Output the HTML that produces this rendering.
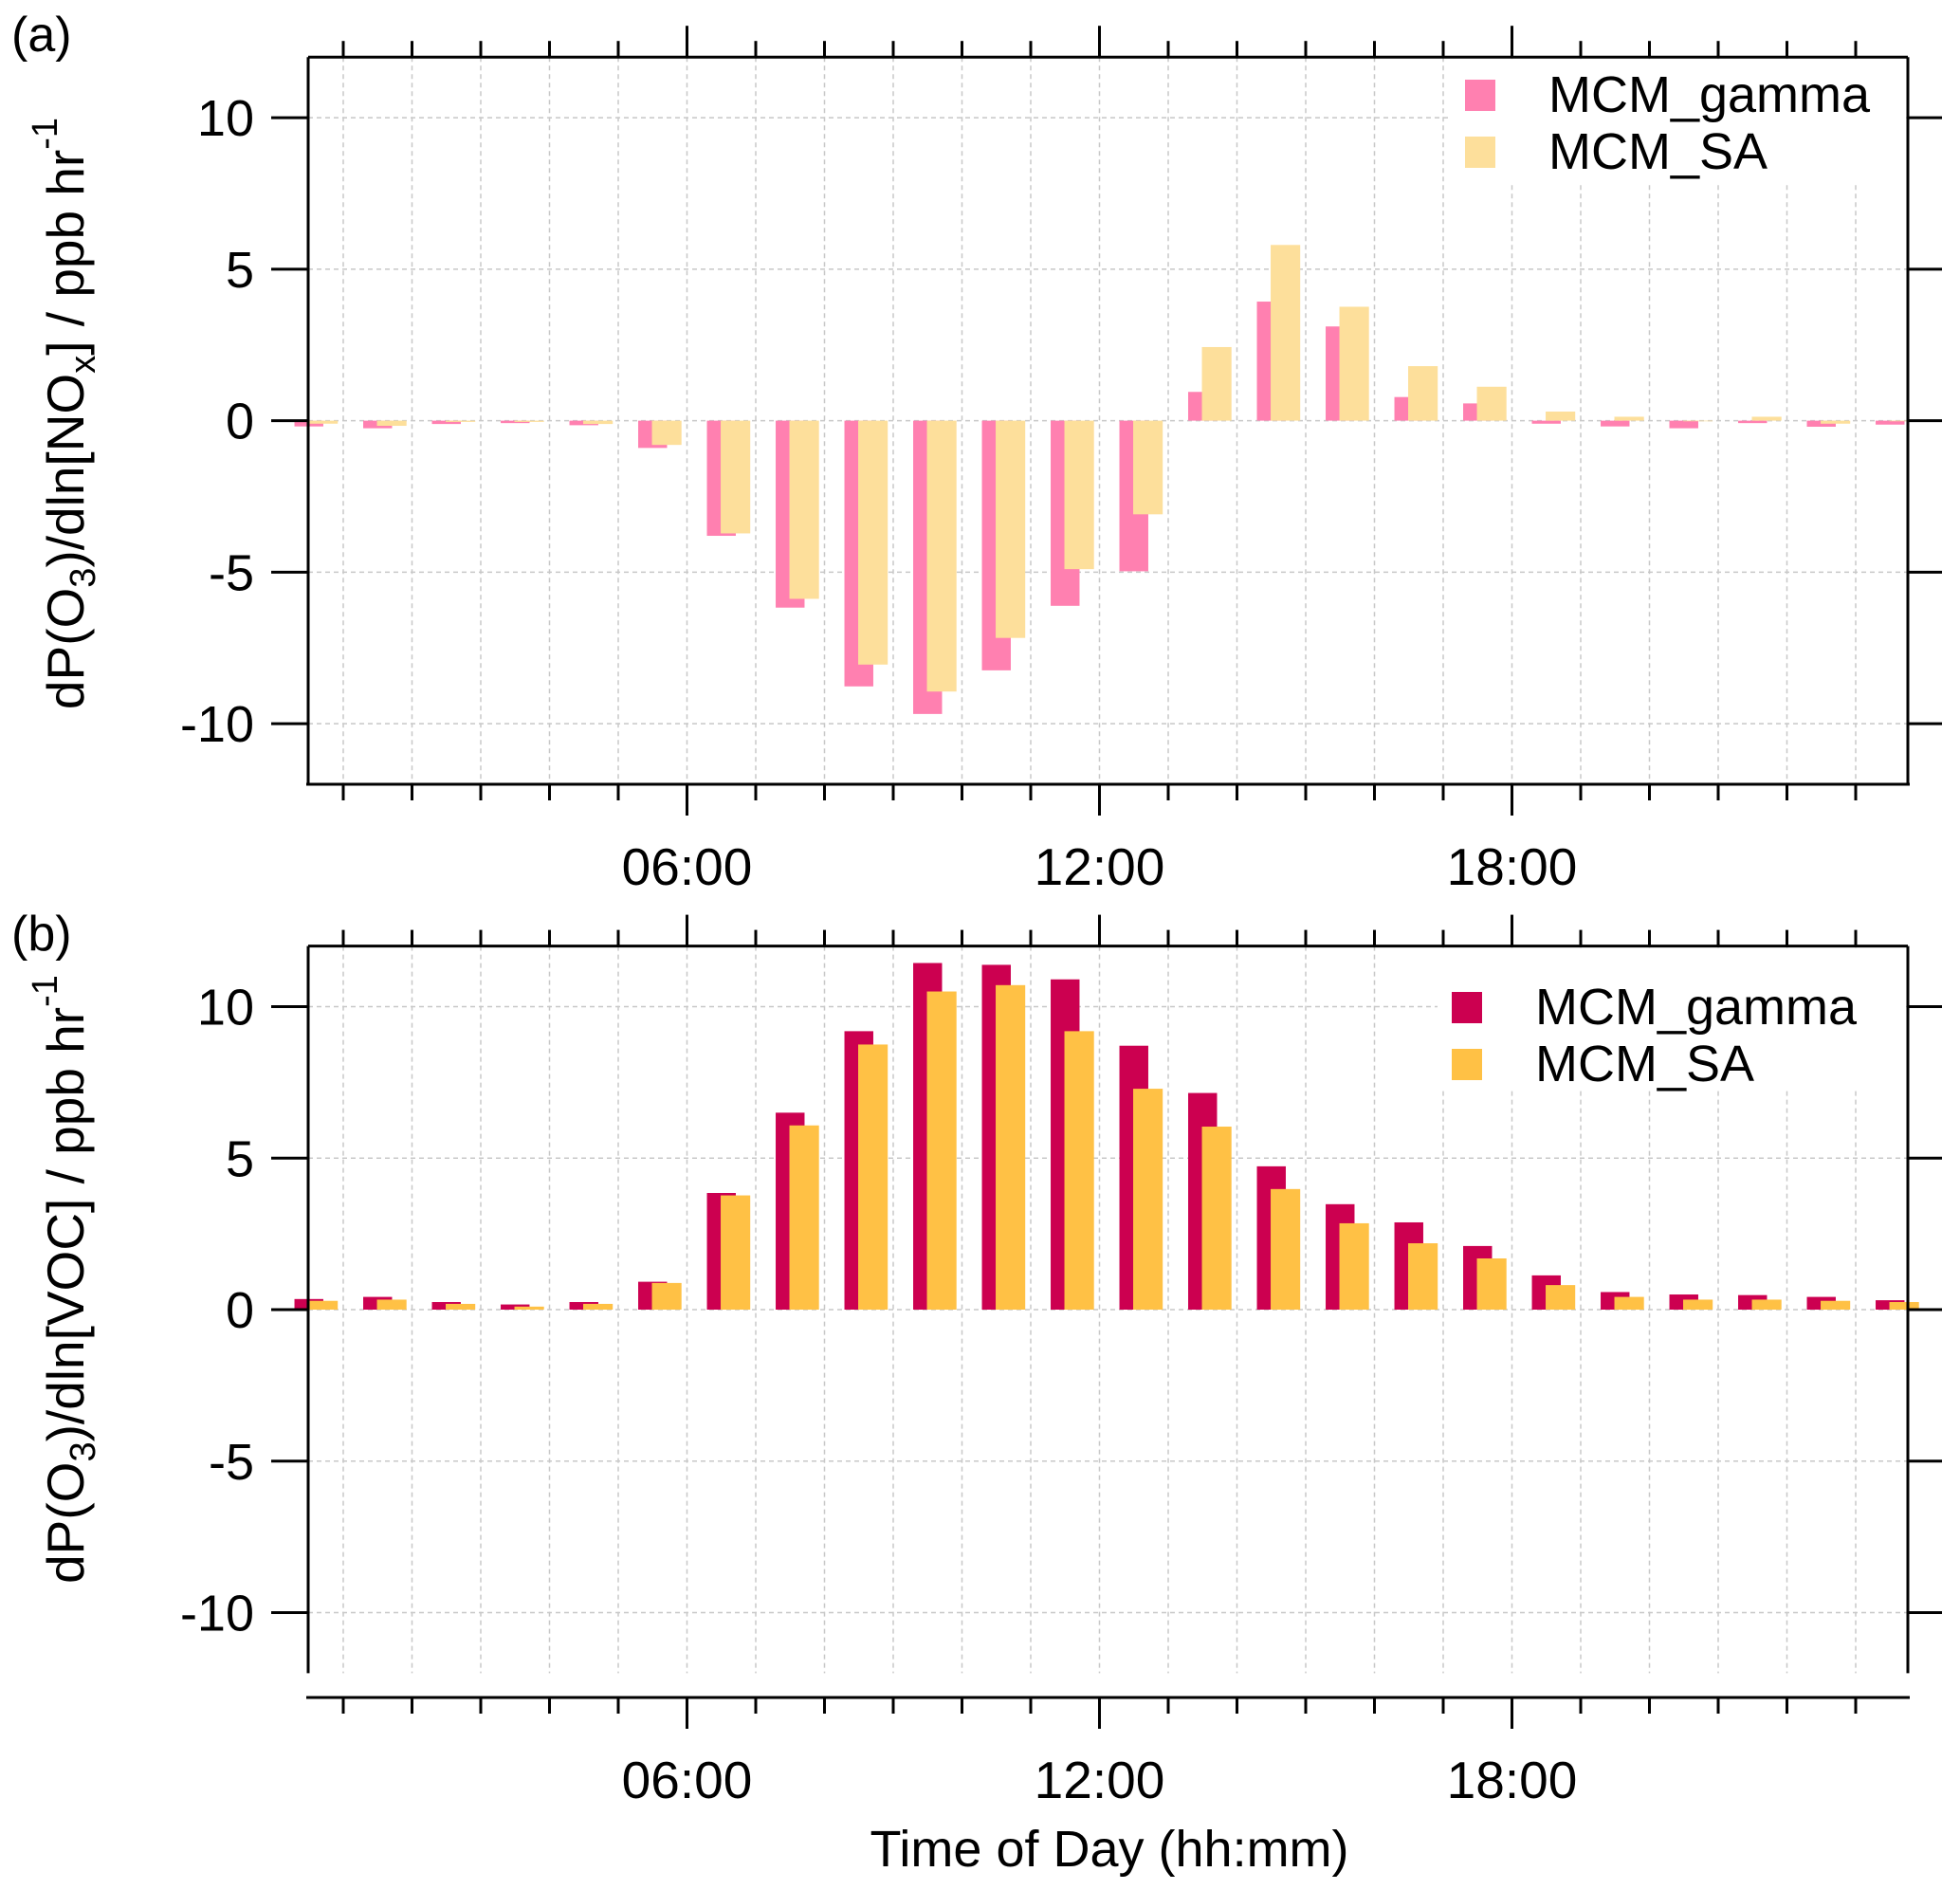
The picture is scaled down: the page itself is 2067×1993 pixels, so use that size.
<!DOCTYPE html>
<html><head><meta charset="utf-8"><style>
html,body{margin:0;padding:0;background:#fff;}
svg{display:block;font-family:"Liberation Sans",Arial,sans-serif;}
</style></head><body>
<svg id="chart" width="2067" height="1993" viewBox="0 0 2067 1993" xmlns="http://www.w3.org/2000/svg">
<g id="root"></g>
</svg>
<script>
const hours = [0,1,2,3,4,5,6,7,8,9,10,11,12,13,14,15,16,17,18,19,20,21,22,23];
const noxGamma = [-0.19,-0.25,-0.11,-0.08,-0.15,-0.9,-3.8,-6.17,-8.77,-9.68,-8.24,-6.11,-4.97,0.95,3.93,3.11,0.78,0.57,-0.1,-0.19,-0.25,-0.08,-0.2,-0.13];
const noxSA = [-0.1,-0.17,-0.04,-0.04,-0.11,-0.8,-3.72,-5.88,-8.05,-8.94,-7.17,-4.9,-3.09,2.43,5.8,3.76,1.8,1.12,0.3,0.13,-0.02,0.13,-0.1,-0.02];
const vocGamma = [0.35,0.42,0.25,0.17,0.25,0.92,3.85,6.5,9.19,11.44,11.38,10.9,8.71,7.15,4.73,3.48,2.88,2.1,1.13,0.58,0.5,0.48,0.42,0.31];
const vocSA = [0.29,0.33,0.19,0.1,0.19,0.88,3.77,6.08,8.75,10.5,10.71,9.19,7.29,6.04,3.98,2.85,2.19,1.69,0.81,0.42,0.33,0.33,0.29,0.25];
const yTicks = [10,5,0,-5,-10];
const yTickLabels = ["10","5","0","-5","-10"];
const xMajor = [6,12,18];
const xMajorLabels = ["06:00","12:00","18:00"];
const seriesNames = ["MCM_gamma","MCM_SA"];

const NS="http://www.w3.org/2000/svg";
const root=document.getElementById('root');
function mk(tag,attrs,parent){const e=document.createElementNS(NS,tag);for(const k in attrs)e.setAttribute(k,attrs[k]);(parent||root).appendChild(e);return e;}

const L=325,R=2012,X0=289.5,HP=72.5;
function xs(h){return X0+h*HP;}

function panel(cfg){
  const g=mk('g',{});
  
  
  const y0=cfg.zero, U=31.95;
  const ys=v=>y0-v*U;
  const top=ys(12), bot=ys(-12);
  const grid=mk('g',{},g);
  
  
  for(let h=1;h<=23;h++){
    const x=xs(h);
    const gl=mk('line',{x1:x,x2:x,y1:top,y2:bot,stroke:'#c8c8c8','stroke-width':1.5,'stroke-dasharray':'5,4'},grid);
    
    
  }
  yTicks.forEach(v=>{
    const gl=mk('line',{x1:L,x2:R,y1:ys(v),y2:ys(v),stroke:'#c8c8c8','stroke-width':1.5,'stroke-dasharray':'5,4'},grid);
    
    
  });
  mk('rect',{x:cfg.legX-15,y:top+2,width:R-cfg.legX+13,height:cfg.legBgH,fill:'#fff'},g);
  const bars=mk('g',{},g);
  
  
  hours.forEach((h,i)=>{
    const gx=xs(h+0.29), gw=0.42*HP;
    const v1=cfg.s1[i];
    const b1=mk('rect',{x:gx,y:Math.min(ys(v1),y0),width:gw,height:Math.abs(ys(v1)-y0),fill:cfg.c1},bars);
    
    
    const v2=cfg.s2[i];
    const b2=mk('rect',{x:gx+0.2*HP,y:Math.min(ys(v2),y0),width:0.43*HP,height:Math.abs(ys(v2)-y0),fill:cfg.c2},bars);
    
    
  });
  const ax=mk('g',{stroke:'#000','stroke-width':3,fill:'none'},g);
  
  
  mk('line',{x1:L,x2:L,y1:top,y2:bot},ax);
  mk('line',{x1:R,x2:R,y1:top,y2:bot},ax);
  mk('line',{x1:L,x2:R,y1:top,y2:top},ax);
  mk('line',{x1:L-2,x2:R+2,y1:cfg.xAxisY,y2:cfg.xAxisY},ax);
  for(let h=1;h<=23;h++){
    const maj=h%6===0;
    const x=xs(h);
    mk('line',{x1:x,x2:x,y1:top,y2:top-(maj?33:17)},ax);
    mk('line',{x1:x,x2:x,y1:cfg.xAxisY,y2:cfg.xAxisY+(maj?33:17)},ax);
  }
  yTicks.forEach((v,i)=>{
    mk('line',{x1:L-39,x2:L,y1:ys(v),y2:ys(v)},ax);
    mk('line',{x1:R,x2:R+36,y1:ys(v),y2:ys(v)},ax);
    const t=mk('text',{x:268,y:ys(v)+19,'text-anchor':'end','font-size':54,fill:'#000'},g);
    t.textContent=yTickLabels[i];
    
    
  });
  xMajor.forEach((h,i)=>{
    const t=mk('text',{x:xs(h),y:cfg.xLabY,'text-anchor':'middle','font-size':55,fill:'#000'},g);
    t.textContent=xMajorLabels[i];
    
    
  });
  [[cfg.c1,0],[cfg.c2,1]].forEach(([c,k])=>{
    const e=mk('g',{},g);
    
    
    mk('rect',{x:cfg.legX,y:cfg.legY+k*60,width:32,height:33,fill:c},e);
    const t=mk('text',{x:cfg.legX+88,y:cfg.legY+k*60+34,'font-size':54,fill:'#000'},e);
    t.textContent=seriesNames[k];
  });
  const pl=mk('text',{x:12,y:cfg.letterY,'font-size':52,fill:'#000'},g);
  pl.textContent=cfg.letter;
  
  
  const yt=mk('text',{transform:`translate(88,${cfg.titleC}) rotate(-90)`,'text-anchor':'middle','font-size':55,fill:'#000'},g);
  
  
  yt.innerHTML=cfg.title;
}

panel({name:'panel-a-nox',zero:443.6,c1:'#FF80B0',c2:'#FDDF9B',s1:noxGamma,s2:noxSA,xAxisY:827,xLabY:933,legX:1545,legY:84,legBgH:130,letter:'(a)',letterY:54,titleC:436,
  title:'dP(O<tspan font-size="38" dy="12">3</tspan><tspan dy="-12">)/dln[NO</tspan><tspan font-size="38" dy="12">x</tspan><tspan dy="-12">] / ppb hr</tspan><tspan font-size="38" dy="-28">-1</tspan>'});
panel({name:'panel-b-voc',zero:1381,c1:'#CC0050',c2:'#FFC145',s1:vocGamma,s2:vocSA,xAxisY:1790,xLabY:1896,legX:1531,legY:1046,legBgH:148,letter:'(b)',letterY:1002,titleC:1349,
  title:'dP(O<tspan font-size="38" dy="12">3</tspan><tspan dy="-12">)/dln[VOC] / ppb hr</tspan><tspan font-size="38" dy="-28">-1</tspan>'});

const xt=mk('text',{x:1170,y:1968,'text-anchor':'middle','font-size':54,fill:'#000'});
xt.textContent='Time of Day (hh:mm)';


</script>
</body></html>
